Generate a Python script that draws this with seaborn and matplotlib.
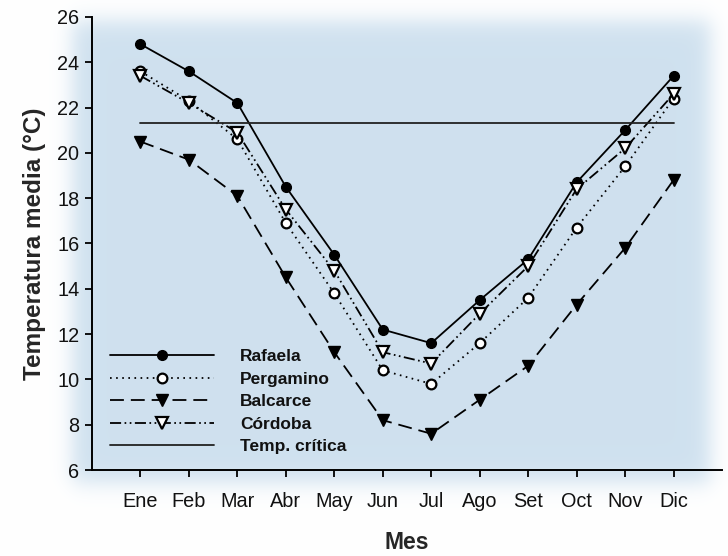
import numpy as np
import pandas as pd
import matplotlib
matplotlib.use("Agg")
import matplotlib.pyplot as plt
import seaborn as sns

meses = ["Ene", "Feb", "Mar", "Abr", "May", "Jun", "Jul", "Ago", "Set", "Oct", "Nov", "Dic"]
rafaela = [24.8, 23.6, 22.2, 18.5, 15.5, 12.2, 11.6, 13.5, 15.3, 18.7, 21.0, 23.4]
pergamino = [23.6, 22.3, 20.6, 16.9, 13.8, 10.4, 9.8, 11.6, 13.6, 16.7, 19.4, 22.4]
balcarce = [20.5, 19.7, 18.1, 14.5, 11.2, 8.2, 7.6, 9.1, 10.6, 13.3, 15.8, 18.8]
cordoba = [23.4, 22.2, 20.9, 17.5, 14.8, 11.2, 10.7, 12.9, 15.0, 18.4, 20.2, 22.6]
temp_critica = 21.3

sns.set_theme(style="ticks")
plt.rcParams["font.family"] = ["Liberation Sans", "DejaVu Sans"]
plt.rcParams["lines.scale_dashes"] = False

W, H = 728, 556
fig = plt.figure(figsize=(W / 100, H / 100), dpi=100, facecolor="white")

# soft blue background panel
bg = fig.add_axes([0, 0, 1, 1], zorder=-10)
xx = np.arange(W)[None, :]
yy = np.arange(H)[:, None]
def ramp(v, a, b, w):
    return 0.5 * (1 + np.tanh((v - a) / w)) * 0.5 * (1 + np.tanh((b - v) / w))
mask = ramp(xx, 72, 710, 12) * ramp(yy, 20, 482, 13)
blue = np.array([0.812, 0.882, 0.937])
img = np.ones((H, W, 3)) * (1 - mask[..., None]) + blue[None, None, :] * mask[..., None]
bg.imshow(img, aspect="auto", extent=[0, W, H, 0])
bg.axis("off")

ax = fig.add_axes([92 / W, 1 - 470 / H, (722 - 92) / W, (470 - 17) / H])
ax.patch.set_alpha(0)

x = np.arange(len(meses))
df = pd.DataFrame({"mes": x, "Rafaela": rafaela, "Pergamino": pergamino,
                   "Balcarce": balcarce, "Córdoba": cordoba})

lw = 1.3
sns.lineplot(data=df, x="mes", y="Rafaela", ax=ax, color="black", lw=lw,
             marker="o", markersize=7, markerfacecolor="black",
             markeredgecolor="black", markeredgewidth=1.0, label="Rafaela")
sns.lineplot(data=df, x="mes", y="Pergamino", ax=ax, color="black", lw=lw,
             linestyle=(0, (1.2, 3.2)),
             marker="o", markersize=7, markerfacecolor="white",
             markeredgecolor="black", markeredgewidth=1.6, label="Pergamino")
sns.lineplot(data=df, x="mes", y="Balcarce", ax=ax, color="black", lw=lw,
             linestyle=(0, (10, 5)),
             marker="v", markersize=8, markerfacecolor="black",
             markeredgecolor="black", markeredgewidth=1.0, label="Balcarce")
sns.lineplot(data=df, x="mes", y="Córdoba", ax=ax, color="black", lw=lw,
             linestyle=(0, (8, 2.5, 1.2, 2.5, 1.2, 2.5)),
             marker="v", markersize=8, markerfacecolor="white",
             markeredgecolor="black", markeredgewidth=1.6, label="Córdoba")
sns.lineplot(x=[x[0], x[-1]], y=[temp_critica, temp_critica], ax=ax,
             color="#222222", lw=1.3, label="Temp. crítica")

ax.set_xlim(-1, 12)
ax.set_ylim(6, 26)
ax.set_xticks(x)
ax.set_xticklabels(meses)
ax.set_yticks(np.arange(6, 27, 2))
ax.tick_params(axis="both", labelsize=14.3, length=5, width=1.3, color="black",
               labelcolor="#111111", direction="out", pad=4)
ax.tick_params(axis="x", pad=11)
for s in ["top", "right"]:
    ax.spines[s].set_visible(False)
for s in ["left", "bottom"]:
    ax.spines[s].set_linewidth(1.4)
    ax.spines[s].set_color("black")

ax.set_xlabel("Mes", fontsize=16.5, fontweight="bold", labelpad=14)
ax.set_ylabel("Temperatura media (°C)", fontsize=17.5, fontweight="bold", labelpad=8)

leg = ax.legend(loc="lower left", bbox_to_anchor=(0.028, 0.035), frameon=False,
                fontsize=12.5, handlelength=6.0, handletextpad=1.5,
                labelspacing=0.42, borderpad=0, borderaxespad=0, numpoints=1)
for t in leg.get_texts():
    t.set_fontweight("bold")
    t.set_color("#111111")

fig.savefig("out.png", dpi=100, facecolor="white")
